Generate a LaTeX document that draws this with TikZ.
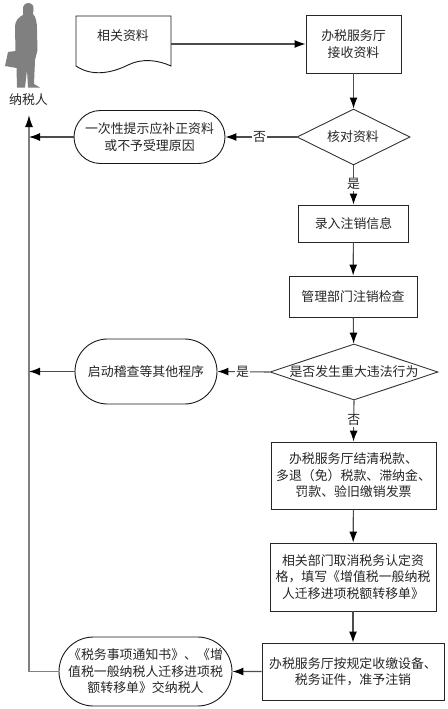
\documentclass[tikz,border=0pt]{standalone}
\usepackage{fontspec}
\setmainfont{Noto Sans CJK SC}
\usetikzlibrary{shapes.geometric,shapes.misc,arrows.meta}
\tikzset{x=1pt,y=-1pt,
 lbl/.style={font=\fontsize{12.9}{16.5}\selectfont,align=center,inner sep=0pt,text=black!85},
 boxx/.style={draw=black!85,line width=0.9pt,fill=white,rectangle,lbl},
 term/.style={draw=black!90,line width=0.9pt,fill=white,rounded rectangle,lbl},
 flow/.style={draw=black!70,line width=1.1pt,-{Latex[length=11pt,width=8pt,color=black]}},
 gline/.style={draw=black!50,line width=1.4pt},
 dia/.style={draw=black!80,line width=0.9pt,fill=white,lbl,diamond,inner sep=0pt}}
\begin{document}
\begin{tikzpicture}
\useasboundingbox (0,0) rectangle (447,709);
% person
\fill[black!50] (28,3) .. controls (32,3) and (34,6) .. (33.5,9) -- (33,14) .. controls (36,17) and (37,22) .. (37,30) -- (37.5,50) -- (35,60) -- (34,84) -- (40,87.5) -- (28,87.5) -- (27,70) -- (25,87.5) -- (17,87.5) -- (16.5,68) -- (5,66) -- (8,52) -- (15.5,51) -- (15,28) .. controls (15,20) and (19,17) .. (23,15) -- (23,7) .. controls (24,4) and (26,3) .. (28,3) -- cycle;
\node[lbl] (payer) at (28.5,100) {纳税人};
% nodes
\draw[draw=black!90,line width=0.9pt,fill=white] (76,16) -- (171,16) -- (171,66) .. controls (158,60) and (142,58) .. (128,65) .. controls (112,73) and (92,77) .. (76,66) -- cycle;
\coordinate (docE) at (171,44);
\node[lbl] (doc) at (123,36) {相关资料};
\node[boxx,minimum width=95pt,minimum height=58pt] (recv) at (353.5,44) {办税服务厅\\接收资料};
\node[dia,minimum width=113pt,minimum height=56pt] (chk) at (353.5,137) {};
\node[lbl] (chkt) at (353,136.5) {核对资料};
\node[term,minimum width=151pt,minimum height=53pt] (hint) at (149.5,137) {一次性提示应补正资料\\或不予受理原因};
\node[boxx,minimum width=110pt,minimum height=37pt] (entry) at (353.5,223.5) {录入注销信息};
\node[boxx,minimum width=128pt,minimum height=41pt] (check) at (353,296.5) {管理部门注销检查};
\node[dia,minimum width=168pt,minimum height=56pt] (ill) at (354,372) {};
\node[lbl] (illt) at (354,371.5) {是否发生重大违法行为};
\node[term,minimum width=142pt,minimum height=65pt] (audit) at (146,371.5) {启动稽查等其他程序};
\node[boxx,minimum width=165pt,minimum height=67pt] (settle) at (353.5,475.5) {办税服务厅结清税款、\\多退（免）税款、滞纳金、\\罚款、验旧缴销发票};
\node[boxx,minimum width=166pt,minimum height=68pt] (cancel) at (353,577) {相关部门取消税务认定资\\格，填写《增值税一般纳税\\人迁移进项税额转移单》};
\node[boxx,minimum width=182pt,minimum height=57pt] (fin) at (353,671.5) {办税服务厅按规定收缴设备、\\税务证件，准予注销};
\node[term,minimum width=173pt,minimum height=69pt] (hand) at (145.5,671.5) {《税务事项通知书》、《增\\值税一般纳税人迁移进项税\\额转移单》交纳税人};
\coordinate (top) at (29,115);
\coordinate (bot) at (29,671.5);
\coordinate (j1) at (29,137);
\coordinate (j2) at (29,371.5);
% connectors
\draw[flow] (docE) -- (docE -| recv.west);
\draw[flow] (recv) -- (chk);
\draw[flow] (chk.west) -- node[lbl,fill=white,inner xsep=1pt,pos=.52]{否} (hint.east);
\draw[flow] (chk.south) -- node[lbl,fill=white,inner ysep=1pt,pos=.48]{是} (entry.north);
\draw[flow] (entry) -- (check);
\draw[flow] (check) -- (ill);
\draw[flow] (ill.west) -- node[lbl,fill=white,inner xsep=1pt,pos=.52]{是} (audit.east);
\draw[flow] (ill.south) -- node[lbl,fill=white,inner ysep=1pt,pos=.48]{否} (settle.north);
\draw[flow] (settle) -- (cancel);
\draw[flow] (cancel) -- (fin);
\draw[flow] (fin) -- (hand);
\draw[gline,-{Latex[length=12pt,width=8pt,color=black]}] (hand.west) -- (bot) -- (top);
\draw[flow] (hint.west) -- (j1);
\draw[flow] (audit.west) -- (j2);
\end{tikzpicture}
\end{document}
